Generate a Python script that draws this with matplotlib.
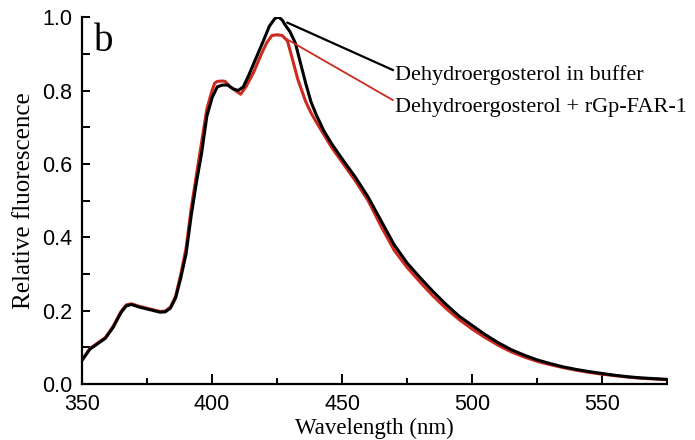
import matplotlib
matplotlib.use("Agg")
import matplotlib.pyplot as plt
from matplotlib.ticker import MultipleLocator

# wavelength (nm) and relative fluorescence
wl_buffer = [350, 353, 356, 359, 362, 365, 367, 369, 372, 376, 380, 382, 384, 386, 388,
             390, 392, 394, 396, 398, 400, 402, 404, 406, 408, 410, 412, 414, 417, 420,
             422, 424, 425, 426, 427, 428, 430, 432, 434, 436, 438, 440, 443, 446, 450,
             455, 460, 465, 470, 475, 480, 485, 490, 495, 500, 505, 510, 515, 520, 525,
             530, 535, 540, 545, 550, 555, 560, 565, 570, 575]
fl_buffer = [0.065, 0.095, 0.11, 0.125, 0.155, 0.195, 0.213, 0.217, 0.21, 0.203, 0.196,
             0.197, 0.207, 0.235, 0.29, 0.355, 0.46, 0.55, 0.63, 0.73, 0.78, 0.81, 0.815,
             0.815, 0.805, 0.80, 0.81, 0.84, 0.89, 0.94, 0.975, 0.995, 1.0, 0.998, 0.992,
             0.98, 0.96, 0.93, 0.875, 0.82, 0.77, 0.735, 0.69, 0.655, 0.614, 0.565,
             0.51, 0.445, 0.38, 0.33, 0.29, 0.252, 0.217, 0.185, 0.16, 0.135, 0.113,
             0.094, 0.079, 0.066, 0.056, 0.047, 0.04, 0.034, 0.029, 0.024, 0.02, 0.017,
             0.015, 0.013]

wl_far = [350, 353, 356, 359, 362, 365, 367, 369, 372, 376, 380, 382, 384, 386, 388,
          390, 392, 394, 396, 398, 400, 401, 402, 404, 405, 407, 409, 411, 413, 416,
          419, 421, 423, 425, 427, 429, 431, 433, 436, 438, 440, 443, 446, 450, 455,
          460, 465, 470, 475, 480, 485, 490, 495, 500, 505, 510, 515, 520, 525, 530,
          535, 540, 545, 550, 555, 560, 565, 570, 575]
fl_far = [0.065, 0.097, 0.112, 0.127, 0.158, 0.198, 0.216, 0.219, 0.212, 0.205, 0.198,
          0.199, 0.21, 0.24, 0.30, 0.37, 0.48, 0.57, 0.66, 0.75, 0.80, 0.82, 0.825,
          0.826, 0.825, 0.81, 0.80, 0.79, 0.81, 0.85, 0.90, 0.93, 0.95, 0.952, 0.95,
          0.935, 0.883, 0.83, 0.77, 0.74, 0.715, 0.68, 0.645, 0.605, 0.555, 0.50,
          0.43, 0.365, 0.318, 0.278, 0.24, 0.206, 0.176, 0.15, 0.127, 0.106, 0.088,
          0.074, 0.062, 0.053, 0.045, 0.038, 0.032, 0.027, 0.023, 0.019, 0.016, 0.014,
          0.012]

label_buffer = "Dehydroergosterol in buffer"
label_far = "Dehydroergosterol + rGp-FAR-1"
red = "#cc2a1e"

fig = plt.figure(figsize=(6.95, 4.40), dpi=100)
ax = fig.add_axes([0.118, 0.127, 0.842, 0.834])

ax.plot(wl_far, fl_far, color=red, lw=2.2)
ax.plot(wl_buffer, fl_buffer, color="black", lw=2.2)

# leader lines to the labels
ax.plot([429, 469.5], [0.985, 0.856], color="black", lw=1.6)
ax.plot([428, 469.5], [0.943, 0.774], color=red, lw=1.3)
ax.text(470.5, 0.843, label_buffer, family="Liberation Serif", fontsize=16,
        va="center", ha="left")
ax.text(470.5, 0.753, label_far, family="Liberation Serif", fontsize=16,
        va="center", ha="left")

ax.text(354.5, 0.935, "b", family="Liberation Serif", fontsize=28,
        va="center", ha="left")

ax.set_xlim(350, 575)
ax.set_ylim(0, 1.0)
ax.xaxis.set_major_locator(MultipleLocator(50))
ax.xaxis.set_minor_locator(MultipleLocator(25))
ax.yaxis.set_major_locator(MultipleLocator(0.2))
ax.yaxis.set_minor_locator(MultipleLocator(0.1))
ax.yaxis.set_major_formatter(plt.FuncFormatter(lambda v, p: f"{v:.1f}"))

for s in ["top", "right"]:
    ax.spines[s].set_visible(False)
for s in ["left", "bottom"]:
    ax.spines[s].set_linewidth(1.6)

ax.tick_params(which="both", direction="in", width=1.4, labelsize=15.5,
               labelfontfamily="Liberation Sans")
ax.tick_params(axis="y", which="both", length=6, pad=7)
ax.tick_params(axis="x", which="major", length=7, pad=7)
ax.tick_params(axis="x", which="minor", length=4)

ax.set_xlabel("Wavelength (nm)", family="Liberation Serif", fontsize=16.5, labelpad=2)
ax.set_ylabel("Relative fluorescence", family="Liberation Serif", fontsize=18,
              labelpad=5)

fig.savefig("out.png", dpi=100)
